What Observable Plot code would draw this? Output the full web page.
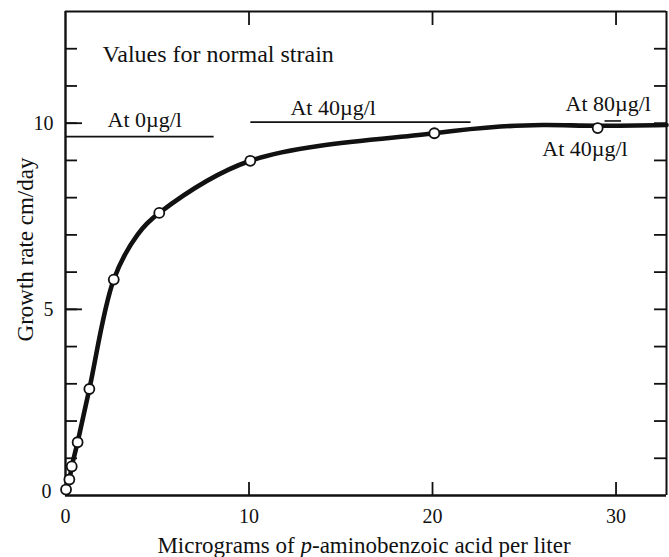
<!DOCTYPE html>
<html><head><meta charset="utf-8">
<script src="https://cdn.jsdelivr.net/npm/d3@7"></script>
<script src="https://cdn.jsdelivr.net/npm/@observablehq/plot@0.6"></script>
<style>body{margin:0;background:#fff} svg{display:block}</style>
</head><body><div id="chart"></div>
<script>
// measured points (circles)
const pointX = [0.03, 0.21, 0.34, 0.66, 1.3, 2.63, 5.11, 10.07, 20.1, 29];
const pointY = [0.16, 0.43, 0.78, 1.43, 2.86, 5.8, 7.59, 8.99, 9.73, 9.87];
// fitted curve
const curveX = [0.03, 0.21, 0.34, 0.66, 1.3, 2.63, 3.93, 5.11, 10.07, 20.1, 23.7, 26, 29, 32.75];
const curveY = [0.16, 0.43, 0.78, 1.43, 2.86, 5.8, 7.01, 7.59, 8.99, 9.73, 9.91, 9.95, 9.93, 9.95];
// normal-strain reference values
const refY = [9.64, 10.03, 10.06];
const refX1 = [0, 10.1, 29.4];
const refX2 = [8.1, 22.1, 30.3];
// ticks
const xTickLabels = [0, 10, 20, 30];
const xTickMarks = [10, 20, 30];
const yTickLabels = [5, 10];
const yZeroLabel = [0];
const yTickMarks = [1, 2, 3, 4, 5, 6, 7, 8, 9, 10, 11, 12];
const yMajor = [5, 10];
const xTitle = ["Micrograms of ", "p", "-aminobenzoic acid per liter"];
const yTitle = "Growth rate cm/day";
const notes = [
  {text: "Values for normal strain", x: 2.02, y: 11.64, size: 24},
  {text: "At 0µg/l", x: 2.29, y: 9.89, size: 22},
  {text: "At 40µg/l", x: 12.26, y: 10.23, size: 22},
  {text: "At 80µg/l", x: 27.25, y: 10.34, size: 22},
  {text: "At 40µg/l", x: 25.98, y: 9.13, size: 22}
];

const W = 669, H = 557, mL = 65, mR = 3, mT = 11, mB = 62;
const xMax = 32.75, yMax = 13;
const fw = W - mL - mR, fh = H - mT - mB;
const points = pointX.map((x, i) => ({x, y: pointY[i]}));
const curve = curveX.map((x, i) => ({x, y: curveY[i]}));
const refs = refY.map((y, i) => ({y, x1: refX1[i], x2: refX2[i]}));
const font = "'Liberation Serif', 'Times New Roman', serif";
const ink = "#111";

const chart = Plot.plot({
  width: W, height: H,
  marginLeft: mL, marginRight: mR, marginTop: mT, marginBottom: mB,
  x: {domain: [0, xMax], axis: null},
  y: {domain: [0, yMax], axis: null},
  style: {fontFamily: font, background: "#fff", color: ink},
  marks: [
    // inward ticks
    Plot.tickX(xTickMarks, {x: d => d, stroke: ink, strokeWidth: 1.8, insetTop: fh - 13}),
    Plot.tickX(xTickMarks, {x: d => d, stroke: ink, strokeWidth: 1.8, insetBottom: fh - 14}),
    Plot.tickY(yTickMarks, {y: d => d, stroke: ink, strokeWidth: 1.8, insetRight: fw - 12}),
    Plot.tickY(yMajor, {y: d => d, stroke: ink, strokeWidth: 1.8, insetRight: fw - 17}),
    Plot.tickY(yTickMarks, {y: d => d, stroke: ink, strokeWidth: 1.8, insetLeft: fw - 12}),
    // frame
    Plot.ruleX([0], {stroke: ink, strokeWidth: 2.4}),
    Plot.ruleY([0], {stroke: ink, strokeWidth: 2.4}),
    Plot.ruleX([xMax], {stroke: ink, strokeWidth: 2}),
    Plot.ruleY([yMax], {stroke: ink, strokeWidth: 2}),
    // reference lines
    Plot.ruleY(refs, {y: "y", x1: "x1", x2: "x2", stroke: ink, strokeWidth: 1.6}),
    // curve and points
    Plot.line(curve, {x: "x", y: "y", curve: "catmull-rom", stroke: ink, strokeWidth: 4.6, strokeLinecap: "round"}),
    Plot.dot(points, {x: "x", y: "y", r: 5, fill: "#fff", stroke: ink, strokeWidth: 1.8}),
    // annotations
    Plot.text(notes, {x: "x", y: "y", text: "text", fontSize: d => d.size, textAnchor: "start", lineAnchor: "bottom", fill: ink}),
    // tick labels
    Plot.text(xTickLabels, {x: d => d, y: 0, text: d => String(d), dy: 21, fontSize: 20, lineAnchor: "middle", fill: ink}),
    Plot.text(yTickLabels, {x: 0, y: d => d, text: d => String(d), dx: -12, fontSize: 20, textAnchor: "end", lineAnchor: "middle", fill: ink}),
    Plot.text(yZeroLabel, {x: 0, y: d => d, text: d => String(d), dx: -14, dy: -4, fontSize: 20, textAnchor: "end", lineAnchor: "middle", fill: ink}),
    // axis titles
    Plot.text([xTitle.join("")], {frameAnchor: "bottom", dx: -2, dy: 50, fontSize: 23, lineAnchor: "middle", fill: ink}),
    Plot.text([yTitle], {frameAnchor: "left", dx: -33, dy: -4, rotate: -90, fontSize: 23, textAnchor: "middle", lineAnchor: "bottom", fill: ink})
  ]
});

// italic "p" in the x title
d3.select(chart).selectAll("text").filter(function () { return this.textContent === xTitle.join(""); })
  .each(function () {
    const t = d3.select(this);
    t.text(null);
    t.append("tspan").text(xTitle[0]);
    t.append("tspan").attr("font-style", "italic").text(xTitle[1]);
    t.append("tspan").text(xTitle[2]);
  });

document.getElementById("chart").append(chart);
</script>
</body></html>
